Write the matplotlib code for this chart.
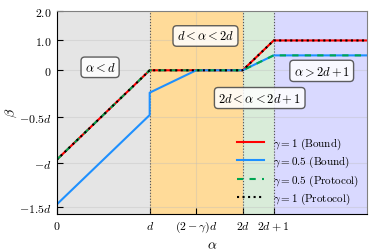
import numpy as np
import matplotlib
matplotlib.use('Agg')
import matplotlib.pyplot as plt

plt.rcParams['mathtext.fontset'] = 'cm'
plt.rcParams['font.family'] = 'serif'
plt.rcParams['font.serif'] = ['DejaVu Serif']

d = 3.0
gamma = 0.5

# region boundaries and colours
regionEdges = [0, d, 2 * d, 2 * d + 1, 10]
regionColors = ['gray', 'orange', 'green', 'blue']
regionAlphas = [0.2, 0.4, 0.15, 0.15]

# curves (alpha, beta)
alphaG1 = [0, d, 2 * d, 2 * d + 1, 10]
betaG1 = [-d, 0, 0, 1, 1]
alphaG05Bound = [0, d, d, (2 - gamma) * d, 2 * d, 2 * d + 1, 10]
betaG05Bound = [-1.5 * d, -0.5 * d, -0.25 * d, 0, 0, 0.5, 0.5]
alphaG05Proto = [0, d, 2 * d, 2 * d + 1, 10]
betaG05Proto = [-d, 0, 0, 0.5, 0.5]

xTicks = [0, d, (2 - gamma) * d, 2 * d, 2 * d + 1]
xTickLabels = ['$0$', '$d$', r'$(2-\gamma)d$', '$2d$', '$2d+1$']
yTicks = [2.0, 1.0, 0, -1.55, -3.1, -4.6]
yTickLabels = ['$2.0$', '$1.0$', '$0$', '$-0.5d$', '$-d$', '$-1.5d$']

fig = plt.figure(figsize=(3.73, 2.53), dpi=100)
ax = fig.add_axes([0.152, 0.150, 0.831, 0.804])

for i in range(len(regionColors)):
    ax.axvspan(regionEdges[i], regionEdges[i + 1], color=regionColors[i],
               alpha=regionAlphas[i], lw=0)
for x in [d, 2 * d, 2 * d + 1]:
    ax.axvline(x, color='#555555', ls=':', lw=0.8)

ax.grid(True, color='#bbbbbb', alpha=0.35, lw=0.8)

ax.plot(alphaG1, betaG1, color='red', lw=1.5, label=r'$\gamma=1\ \mathrm{(Bound)}$')
ax.plot(alphaG05Bound, betaG05Bound, color='dodgerblue', lw=1.5,
        label=r'$\gamma=0.5\ \mathrm{(Bound)}$')
ax.plot(alphaG05Proto, betaG05Proto, color='#00a651', lw=1.5, ls='--', dashes=(3, 3),
        label=r'$\gamma=0.5\ \mathrm{(Protocol)}$')
ax.plot(alphaG1, betaG1, color='black', lw=1.5, ls=':',
        label=r'$\gamma=1\ \mathrm{(Protocol)}$')

box = dict(boxstyle='round,pad=0.3', facecolor='white', alpha=0.85, edgecolor='#444444')
ax.text(1.4, 0.1, r'$\alpha<d$', fontsize=9, ha='center', va='center', bbox=box)
ax.text(4.8, 1.15, r'$d<\alpha<2d$', fontsize=9, ha='center', va='center', bbox=box)
ax.text(6.55, -0.93, r'$2d<\alpha<2d+1$', fontsize=9, ha='center', va='center', bbox=box)
ax.text(8.55, -0.02, r'$\alpha>2d+1$', fontsize=9, ha='center', va='center', bbox=box)

ax.set_xlim(0, 10)
ax.set_ylim(-4.82, 2.0)
ax.set_xticks(xTicks)
ax.set_xticklabels(xTickLabels)
ax.set_yticks(yTicks)
ax.set_yticklabels(yTickLabels)
ax.tick_params(direction='in', length=4, labelsize=8.5)
ax.set_xlabel(r'$\alpha$', fontsize=10, labelpad=2)
ax.set_ylabel(r'$\beta$', fontsize=10, labelpad=0)

for s in ['top', 'right']:
    ax.spines[s].set_color('#808080')

ax.legend(loc='lower right', frameon=False, fontsize=8, handlelength=2.4,
          labelspacing=0.28, borderaxespad=0.3, bbox_to_anchor=(1.0, 0.0))

fig.savefig('out.png', dpi=100)
